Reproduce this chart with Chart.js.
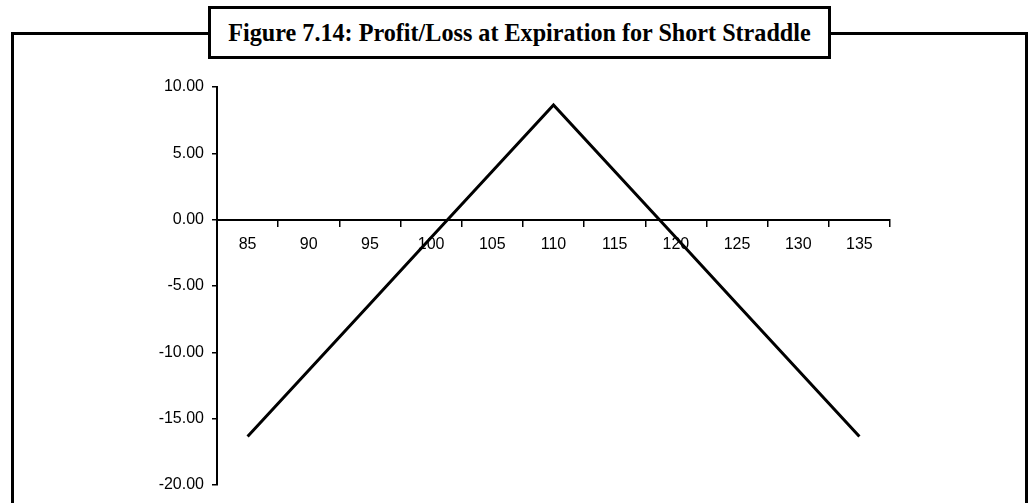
<!DOCTYPE html>
<html>
<head>
<meta charset="utf-8">
<script src="https://cdn.jsdelivr.net/npm/chart.js@4.4.1/dist/chart.umd.min.js"></script>
<style>
  html, body { margin: 0; padding: 0; background: #fff; width: 1030px; height: 503px; overflow: hidden; }
  #wrap { position: relative; width: 1030px; height: 503px; }
  #c { position: absolute; left: 0; top: 0; }
  #frame { position: absolute; left: 11px; top: 32px; width: 1017px; height: 600px; border: 3px solid #000; box-sizing: border-box; }
  #title { position: absolute; left: 208px; top: 6px; width: 623px; height: 53px; border: 3px solid #000; box-sizing: border-box;
           background: #fff; display: flex; align-items: center; justify-content: center; white-space: nowrap;
           font-family: "Liberation Serif", serif; font-weight: bold; color: #000; z-index: 2; }
</style>
</head>
<body>
<div id="wrap">
  <div id="frame"></div>
  <canvas id="c" width="1030" height="503"></canvas>
  <div id="title"></div>
</div>
<script>
const titleText = "Figure 7.14: Profit/Loss at Expiration for Short Straddle";
const categories = ["85", "90", "95", "100", "105", "110", "115", "120", "125", "130", "135"];
const profitLoss = [-16.35, -11.35, -6.35, -1.35, 3.65, 8.65, 3.65, -1.35, -6.35, -11.35, -16.35];
const yMin = -20, yMax = 10, yStep = 5;

// fit title font to reference width
const titleEl = document.getElementById('title');
titleEl.textContent = titleText;
const mctx = document.createElement('canvas').getContext('2d');
mctx.font = 'bold 20px "Liberation Serif"';
const tw = mctx.measureText(titleText).width;
titleEl.style.fontSize = (20 * 583 / tw).toFixed(2) + 'px';

const axisFont = { family: '"Liberation Sans", Arial, sans-serif', size: 16 };

new Chart(document.getElementById('c'), {
  type: 'line',
  data: {
    labels: categories,
    datasets: [{
      data: profitLoss,
      borderColor: '#000',
      borderWidth: 3,
      pointRadius: 0,
      tension: 0,
      fill: false
    }]
  },
  options: {
    responsive: false,
    animation: false,
    layout: { padding: { left: 0, top: 87, right: 140, bottom: 18 } },
    plugins: { legend: { display: false }, tooltip: { enabled: false }, title: { display: false } },
    scales: {
      x: {
        type: 'category',
        position: { y: 0 },
        offset: true,
        grid: { offset: true, drawOnChartArea: false, drawTicks: true, tickLength: 6, color: '#000', lineWidth: 1.5 },
        border: { display: true, color: '#000', width: 2 },
        ticks: { color: '#000', font: axisFont, padding: 9, maxRotation: 0, autoSkip: false },
        afterFit(s) { s.height = 0; }
      },
      y: {
        min: yMin, max: yMax,
        grid: { drawOnChartArea: false, drawTicks: true, tickLength: 5, color: '#000', lineWidth: 1.5 },
        border: { display: true, color: '#000', width: 2 },
        ticks: { stepSize: yStep, color: '#000', font: axisFont, padding: 8, callback: v => Number(v).toFixed(2) },
        afterFit(s) { s.width = 217; }
      }
    }
  }
});
</script>
</body>
</html>
